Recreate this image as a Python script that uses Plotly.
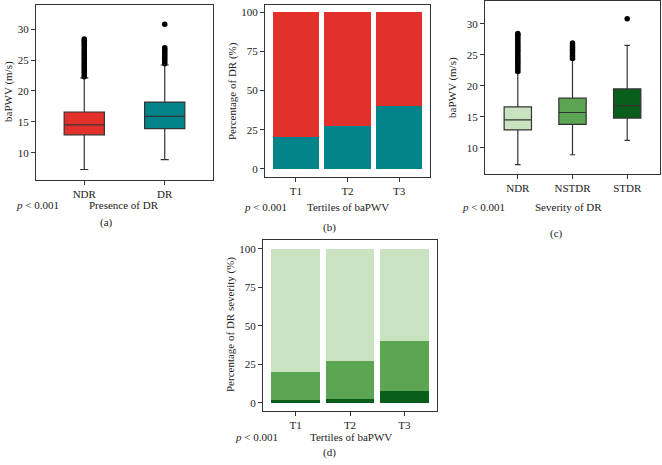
import plotly.graph_objects as go

W, H = 662, 465

# ---------------- data ----------------
# Panel (a): baPWV by presence of DR
a_groups = ["NDR", "DR"]
a_q1 = [12.9, 13.9]
a_med = [14.5, 15.9]
a_q3 = [16.6, 18.2]
a_low = [7.3, 8.9]
a_high = [22.1, 24.2]
ndr_outliers = [22.3, 22.6, 22.9, 23.2, 23.5, 23.8, 24.1, 24.4, 24.7, 25.0, 25.3,
                25.6, 25.9, 26.2, 26.5, 26.8, 27.1, 27.4, 27.7, 28.0, 28.2, 28.4]
dr_outliers = [24.4, 24.7, 25.0, 25.3, 25.6, 25.9, 26.2, 26.5, 26.8, 27.0, 30.8]

# Panel (b): percentage of DR by tertile
tertiles = ["T1", "T2", "T3"]
dr_pct = [20.1, 27.5, 40.2]
ndr_pct = [79.9, 72.5, 59.8]

# Panel (c): baPWV by severity
c_groups = ["NDR", "NSTDR", "STDR"]
c_q1 = [12.9, 13.8, 14.8]
c_med = [14.5, 15.7, 16.8]
c_q3 = [16.6, 18.0, 19.5]
c_low = [7.3, 8.9, 11.2]
c_high = [22.1, 24.2, 26.5]
nstdr_outliers = [24.4, 24.7, 25.0, 25.3, 25.6, 25.9, 26.2, 26.5, 26.9]
stdr_outliers = [30.8]

# Panel (d): DR severity by tertile
sev_ndr = [79.9, 72.5, 59.8]
sev_nstdr = [18.0, 24.7, 32.5]
sev_stdr = [2.1, 2.8, 7.7]

# ---------------- styles ----------------
RED = "#E4302A"
TEAL = "#03838A"
G_LIGHT = "#C9E3C1"
G_MID = "#5CA653"
G_DARK = "#0A5E1B"
EDGE = "#333333"
FONT = "Liberation Serif"
TXT = "#222222"
FS = 11


def px_x(x):
    return x / W


def px_y(y):
    return 1 - y / H


fig = go.Figure()


def add_box(xaxis, yaxis, xpos, q1, med, q3, lo, hi, color):
    fig.add_trace(go.Box(
        x=[xpos], q1=[q1], median=[med], q3=[q3], lowerfence=[lo], upperfence=[hi],
        width=0.5, whiskerwidth=0.2, fillcolor=color,
        line=dict(color=EDGE, width=1.2), boxpoints=False,
        xaxis=xaxis, yaxis=yaxis, hoverinfo="skip"))


def add_outliers(xaxis, yaxis, xpos, vals):
    fig.add_trace(go.Scatter(
        x=[xpos] * len(vals), y=vals, mode="markers",
        marker=dict(color="black", size=5.5),
        xaxis=xaxis, yaxis=yaxis, hoverinfo="skip"))


# Panel (a)
a_cols = [RED, TEAL]
for i in range(len(a_groups)):
    add_box("x", "y", i + 1, a_q1[i], a_med[i], a_q3[i], a_low[i], a_high[i], a_cols[i])
add_outliers("x", "y", 1, ndr_outliers)
add_outliers("x", "y", 2, dr_outliers)

# Panel (b)
xs3 = [1, 2, 3]
fig.add_trace(go.Bar(x=xs3, y=dr_pct, width=0.9, marker=dict(color=TEAL, line=dict(width=0)),
                     xaxis="x2", yaxis="y2", hoverinfo="skip"))
fig.add_trace(go.Bar(x=xs3, y=ndr_pct, width=0.9, marker=dict(color=RED, line=dict(width=0)),
                     xaxis="x2", yaxis="y2", hoverinfo="skip"))

# Panel (c)
c_cols = [G_LIGHT, G_MID, G_DARK]
for i in range(len(c_groups)):
    add_box("x3", "y3", i + 1, c_q1[i], c_med[i], c_q3[i], c_low[i], c_high[i], c_cols[i])
add_outliers("x3", "y3", 1, ndr_outliers)
add_outliers("x3", "y3", 2, nstdr_outliers)
add_outliers("x3", "y3", 3, stdr_outliers)

# Panel (d)
for vals, col in [(sev_stdr, G_DARK), (sev_nstdr, G_MID), (sev_ndr, G_LIGHT)]:
    fig.add_trace(go.Bar(x=xs3, y=vals, width=0.9, marker=dict(color=col, line=dict(width=0)),
                         xaxis="x4", yaxis="y4", hoverinfo="skip"))

axis_common = dict(showline=True, mirror=True, linecolor=EDGE, linewidth=1.2,
                   ticks="outside", ticklen=4, tickcolor=EDGE, tickwidth=1,
                   showgrid=False, zeroline=False,
                   tickfont=dict(family=FONT, size=FS, color=TXT))


def xax(dom, n, labels, anchor):
    return dict(axis_common, domain=dom, range=[0.4, n + 0.6], tickmode="array",
                tickvals=list(range(1, n + 1)), ticktext=labels, anchor=anchor)


def yax(dom, rng, tv, anchor):
    return dict(axis_common, domain=dom, range=rng, tickmode="array",
                tickvals=tv, ticktext=[str(v) for v in tv], anchor=anchor)


fig.update_layout(
    width=W, height=H, margin=dict(l=0, r=0, t=0, b=0),
    paper_bgcolor="white", plot_bgcolor="white", showlegend=False,
    barmode="stack", bargap=0,
    xaxis=xax([px_x(36), px_x(213)], 2, a_groups, "y"),
    yaxis=yax([px_y(180), px_y(5)], [5.6, 33.9], [10, 15, 20, 25, 30], "x"),
    xaxis2=xax([px_x(265), px_x(430)], 3, tertiles, "y2"),
    yaxis2=yax([px_y(177), px_y(5)], [-5.2, 104.6], [0, 25, 50, 75, 100], "x2"),
    xaxis3=xax([px_x(485), px_x(660)], 3, c_groups, "y3"),
    yaxis3=yax([px_y(174), px_y(1)], [5.8, 33.65], [10, 15, 20, 25, 30], "x3"),
    xaxis4=xax([px_x(263), px_x(437)], 3, tertiles, "y4"),
    yaxis4=yax([px_y(411), px_y(240)], [-5.2, 105.8], [0, 25, 50, 75, 100], "x4"),
)

ann = []


def text(x, y, s, size=FS, angle=0):
    ann.append(dict(x=px_x(x), y=px_y(y), xref="paper", yref="paper", text=s,
                    showarrow=False, textangle=angle, xanchor="center", yanchor="middle",
                    font=dict(family=FONT, size=size, color=TXT)))


# y titles
text(8, 92, "baPWV (m/s)", angle=-90)
text(233, 91, "Percentage of DR (%)", angle=-90)
text(453, 88, "baPWV (m/s)", angle=-90)
text(230, 325, "Percentage of DR severity (%)", angle=-90)

# p values
P = "<i>p</i> < 0.001"
text(37, 205, P)
text(265, 207, P)
text(483, 207, P)
text(256, 437, P)

# x titles
text(124.5, 205, "Presence of DR")
text(347.5, 207, "Tertiles of baPWV")
text(568, 207, "Severity of DR")
text(351, 437, "Tertiles of baPWV")

# captions
text(107, 222, "(a)")
text(329, 227, "(b)")
text(556, 233, "(c)")
text(329, 452, "(d)")

fig.update_layout(annotations=ann)

fig.write_html("out.html", config={"displayModeBar": False},
               post_script="document.body.style.margin='0';document.body.style.overflow='hidden';")
